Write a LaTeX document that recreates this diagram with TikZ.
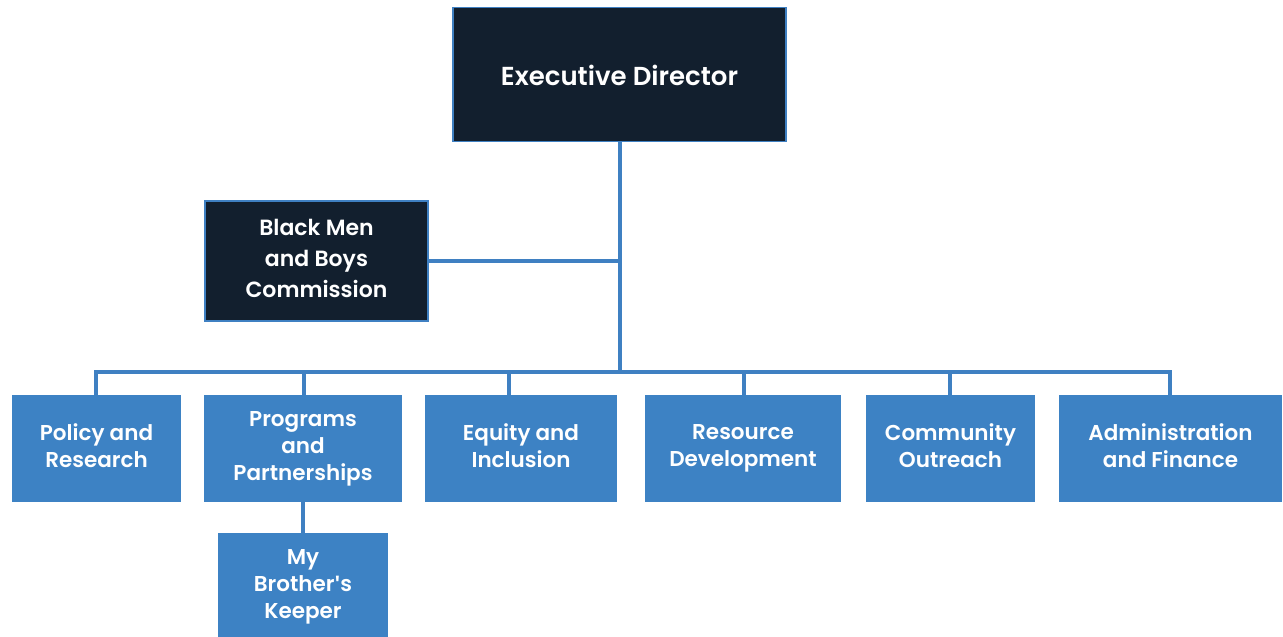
\documentclass[tikz,border=0pt]{standalone}
\usepackage{fontspec}
\setmainfont{Poppins SemiBold}[Ligatures=ResetAll]
\newfontfamily\aposfont{Open Sans}[Ligatures=ResetAll]
\newcommand{\myapos}{{\aposfont\bfseries\symbol{39}}}
\newcommand{\mystrut}{\rule[-6pt]{0pt}{34pt}}
\definecolor{navy}{HTML}{121F2E}
\definecolor{bluebox}{HTML}{3D82C4}
\definecolor{blueline}{HTML}{3F80C2}
\begin{document}
\begin{tikzpicture}[x=1pt,y=-1pt,
  every node/.style={execute at begin node=\mystrut,execute at end node=\mystrut},
  dark/.style={draw=blueline,line width=1.5pt,fill=navy,text=white,align=center,inner sep=0pt},
  unit/.style={draw=none,fill=bluebox,text=white,align=center,inner sep=0pt,font=\fontsize{21.5}{27}\selectfont},
  conn/.style={draw=blueline,line width=3.5pt}]
\useasboundingbox (0,0) rectangle (1283,637);
\fill[white] (0,0) rectangle (1283,637);
\node[dark,minimum width=333pt,minimum height=134pt,font=\fontsize{26}{27}\selectfont] (ed) at (619.5,74.5) {Executive Director};
\node[dark,minimum width=223pt,minimum height=120pt,font=\fontsize{22}{31}\selectfont] (bm) at (316.5,261) {Black Men\\and Boys\\Commission};
\node[unit,minimum width=169pt,minimum height=107pt] (pr) at (96.5,448.5) {Policy and\\Research};
\node[unit,minimum width=198pt,minimum height=107pt] (pp) at (303,448.5) {Programs\\and\\Partnerships};
\node[unit,minimum width=192pt,minimum height=107pt] (ei) at (521,448.5) {Equity and\\Inclusion};
\node[unit,minimum width=196pt,minimum height=107pt] (rd) at (743,448.5) {Resource\\Development};
\node[unit,minimum width=169pt,minimum height=107pt] (co) at (950.5,448.5) {Community\\Outreach};
\node[unit,minimum width=223pt,minimum height=107pt] (af) at (1170.5,448.5) {Administration\\and Finance};
\node[unit,minimum width=170pt,minimum height=107pt,anchor=north] (mb) at (303,533) {My\\Brother\myapos s\\Keeper};
\coordinate (j1) at (620,261);
\coordinate (j2) at (620,372);
\draw[conn] (ed.south -| j1) -- (j2);
\draw[conn] (bm.east) -- (j1);
\draw[conn] (96,372) -- (1170,372);
\foreach \n/\x in {pr/96,pp/304,ei/509,rd/744,co/950,af/1170}{
  \draw[conn] (\x,370.25) -- (\x,395);
}
\draw[conn] (pp.south) -- (mb.north);
\fill[white] (0,637) rectangle (1283,640);
\end{tikzpicture}
\end{document}
